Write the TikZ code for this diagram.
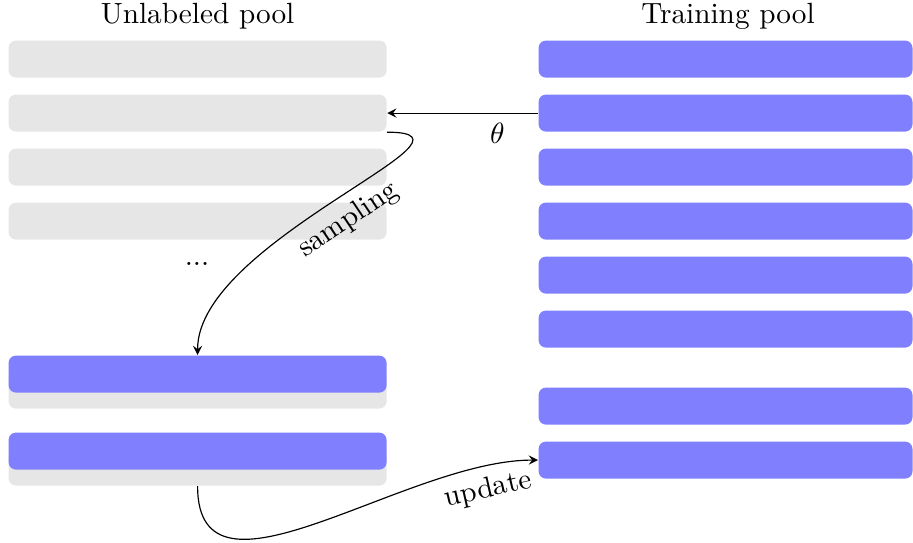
\documentclass[tikz,border=0pt]{standalone}
\usetikzlibrary{arrows}
\definecolor{poolgray}{HTML}{E6E6E6}
\definecolor{poolblue}{HTML}{8080FF}
\begin{document}
\begin{tikzpicture}[x=0.3418pt, y=-0.3418pt,
  bar/.style={rectangle, rounded corners=2.5pt, inner sep=0pt,
    minimum width=129.2pt, minimum height=12.65pt, anchor=north west},
  graybar/.style={bar, fill=poolgray},
  bluebar/.style={bar, fill=poolblue},
  rbar/.style={bluebar, minimum width=127.8pt},
  title/.style={anchor=south, inner sep=3.33pt},
  conn/.style={-stealth, line width=0.4pt}]
\useasboundingbox (0,0) rectangle (913,542);

% unlabeled pool
\node[graybar] (u1) at (8,40) {};
\node[graybar] (u2) at (8,94) {};
\node[graybar] (u3) at (8,148) {};
\node[graybar] (u4) at (8,202) {};
\node (dots) at (197,264) {...};
\node[graybar] (g1) at (8,371) {};
\node[bluebar] (s1) at (8,355) {};
\node[graybar] (g2) at (8,448) {};
\node[bluebar] (s2) at (8,432) {};
\node[title] (ul) at (u1.north) {Unlabeled pool};

% training pool
\node[rbar] (t1) at (538,40) {};
\node[rbar] (t2) at (538,94) {};
\node[rbar] (t3) at (538,148) {};
\node[rbar] (t4) at (538,202) {};
\node[rbar] (t5) at (538,256) {};
\node[rbar] (t6) at (538,310) {};
\node[rbar] (t7) at (538,387) {};
\node[rbar] (t8) at (538,441) {};
\node[title] (tl) at (728,40) {Training pool};

% connectors
\draw[conn] (t2.west) -- node[below, pos=0.27] {$\theta$} (u2.east);
\draw[conn] (u2.south east) to[out=0, in=90]
  node[midway, sloped, below] {sampling} (s1.north);
\draw[conn] (g2.south) to[out=-90, in=180]
  node[pos=0.87, sloped, below] {update} (t8.west);
\end{tikzpicture}
\end{document}
